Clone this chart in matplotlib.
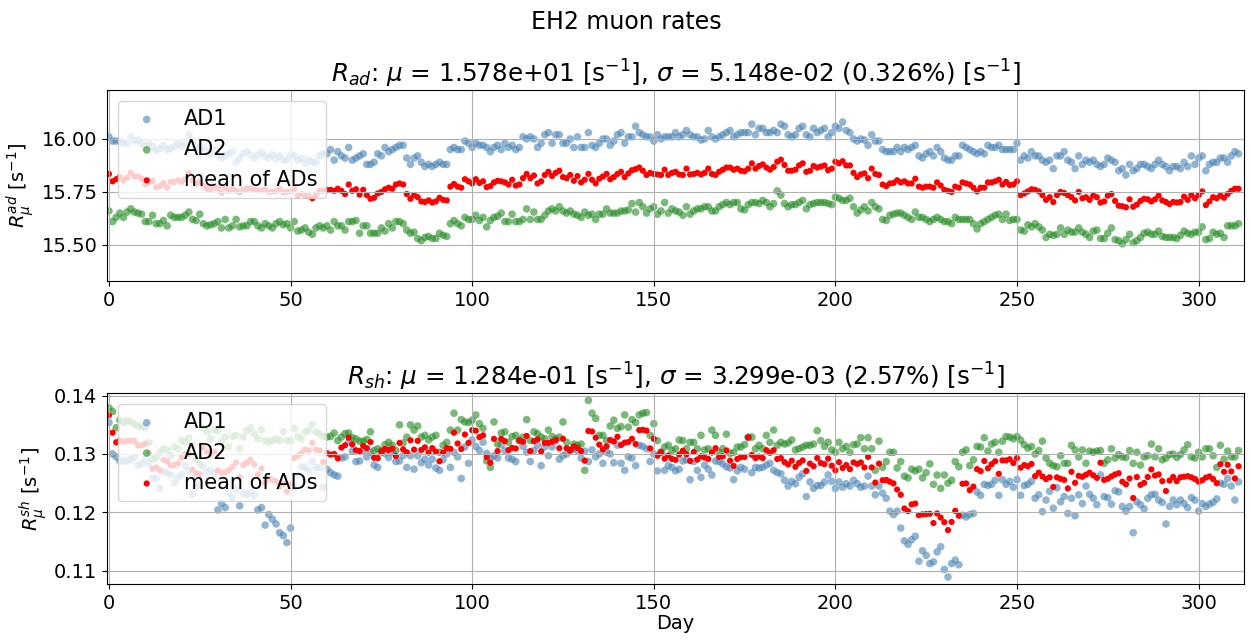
"""EH2 muon rates per day for the two ADs."""

import matplotlib

matplotlib.use("Agg")
import matplotlib.pyplot as plt
import numpy as np

# AD muon rate R_ad [1/s], one value per day
ad_ad1 = [
    16.01, 15.99, 15.99, 15.99, 15.98, 15.98, 16.01, 15.99, 15.995, 15.98,
    15.965, 15.98, 15.965, 15.945, 15.955, 15.97, 15.95, 15.955, 15.965, 15.98,
    15.965, 15.98, 16.02, 15.99, 15.965, 15.95, 15.96, 15.94, 15.93, 15.95,
    15.925, 15.91, 15.92, 15.93, 15.94, 15.89, 15.91, 15.93, 15.94, 15.925,
    15.91, 15.925, 15.935, 15.92, 15.91, 15.925, 15.905, 15.92, 15.90, 15.90,
    15.925, 15.92, 15.90, 15.91, 15.885, 15.90, 15.89, 15.89,
    15.92, 15.93, 15.93, 15.95, 15.90, 15.94, 15.92, 15.91, 15.96, 15.90,
    15.91, 15.92, 15.93, 15.88, 15.88, 15.89, 15.93, 15.92, 15.96,
    15.94, 15.95, 15.96, 15.97, 15.97,
    15.91, 15.88, 15.91, 15.92, 15.89, 15.87, 15.88, 15.87, 15.88, 15.89, 15.88, 15.88,
    15.95, 15.96, 15.95, 15.95, 15.99, 15.98,
    15.96, 15.98, 15.97, 15.97, 15.96, 15.94, 15.96, 15.97, 15.95, 15.98, 15.96, 15.97, 15.95, 15.96,
    16.01, 16.00, 16.01, 16.00, 15.96, 15.98, 16.02, 16.03, 15.98, 16.02,
    16.02, 15.98, 15.98, 16.00, 15.96, 16.01, 15.96, 15.96, 16.03, 15.97,
    15.96, 15.98, 16.00, 16.00, 15.97, 15.99, 16.02, 16.03, 15.98, 16.01,
    16.01, 16.06, 16.03, 16.02, 16.01, 16.01, 15.99, 16.02, 16.00, 16.01,
    16.01, 16.01, 16.03, 16.01, 16.02, 16.04, 16.02, 16.01, 16.01, 15.995,
    16.00, 16.04, 16.01, 16.00, 16.01, 16.02, 16.03, 16.04, 16.01, 16.02,
    16.03, 16.03, 16.03, 16.07, 16.02, 16.05, 16.05, 16.03, 16.03, 16.04,
    16.03, 16.07, 16.06, 16.02, 16.01, 16.02, 16.05, 16.06, 16.02, 16.01,
    16.05, 16.03, 16.04, 16.05, 16.01, 16.03, 16.06, 16.05, 16.08, 16.04,
    16.03, 16.00, 15.99, 16.00, 15.995, 15.97, 16.02, 15.99, 15.99, 15.95,
    15.94, 15.94, 15.94, 15.96, 15.94, 15.96, 15.95, 15.96, 15.97, 15.92,
    15.91, 15.93, 15.94, 15.92, 15.96, 15.94, 15.91,
    15.90, 15.90, 15.92, 15.92, 15.97, 15.96, 15.95, 15.94, 15.93, 15.94,
    15.93, 15.97, 15.96, 15.96, 15.97, 15.95, 15.95, 15.95, 15.95, 15.98,
    15.90, 15.92, 15.91, 15.94, 15.92, 15.92, 15.90, 15.89, 15.90, 15.86,
    15.92, 15.92, 15.94, 15.90, 15.89, 15.86, 15.92, 15.88, 15.90, 15.89,
    15.90, 15.88, 15.87, 15.88, 15.91, 15.90, 15.89, 15.85, 15.86, 15.83,
    15.88, 15.85, 15.86, 15.88, 15.88, 15.87, 15.86, 15.88, 15.90, 15.88,
    15.87, 15.85, 15.87, 15.87, 15.86, 15.89, 15.87, 15.92, 15.88, 15.91,
    15.92, 15.85, 15.88, 15.89, 15.89, 15.91, 15.91, 15.89, 15.92, 15.94, 15.93,
]
ad_ad2 = [
    15.66, 15.61, 15.63, 15.65, 15.63, 15.655, 15.67, 15.655, 15.65, 15.645,
    15.61, 15.61, 15.64, 15.60, 15.60, 15.615, 15.59, 15.64, 15.63, 15.63,
    15.63, 15.64, 15.655, 15.62, 15.615, 15.645, 15.60, 15.59, 15.595, 15.60,
    15.61, 15.58, 15.62, 15.58, 15.59, 15.62, 15.585, 15.59, 15.59, 15.61,
    15.61, 15.59, 15.58, 15.60, 15.59, 15.58, 15.60, 15.61, 15.595, 15.60,
    15.58, 15.61, 15.565, 15.57, 15.58, 15.56, 15.55, 15.58, 15.59, 15.58,
    15.59, 15.57, 15.61, 15.59, 15.59, 15.57, 15.61, 15.61, 15.615, 15.555,
    15.59, 15.59, 15.555, 15.555, 15.555, 15.58, 15.565, 15.60,
    15.58, 15.61, 15.61, 15.60, 15.57, 15.555, 15.56, 15.53, 15.52, 15.535,
    15.54, 15.53, 15.53, 15.555, 15.545, 15.54, 15.60, 15.615, 15.60, 15.59,
    15.63, 15.62, 15.62, 15.64, 15.615, 15.63, 15.585, 15.615, 15.63, 15.635,
    15.65, 15.61, 15.61, 15.645, 15.61, 15.61, 15.62, 15.67, 15.62, 15.655,
    15.62, 15.62, 15.64, 15.66, 15.67, 15.66, 15.68, 15.66, 15.65, 15.66,
    15.645, 15.64, 15.63, 15.655, 15.64, 15.645, 15.62, 15.645, 15.645, 15.67,
    15.65, 15.65, 15.65, 15.66, 15.66, 15.665, 15.695, 15.655, 15.70, 15.68,
    15.65, 15.67, 15.68, 15.645, 15.66, 15.70,
    15.65, 15.67, 15.66, 15.655, 15.64, 15.68, 15.645, 15.66, 15.67, 15.67,
    15.68, 15.68, 15.66, 15.66, 15.68, 15.69, 15.70, 15.69, 15.70, 15.70,
    15.67, 15.665, 15.69, 15.70, 15.70, 15.695, 15.71, 15.70, 15.68, 15.695,
    15.755, 15.735, 15.695, 15.68, 15.69, 15.69, 15.70, 15.71, 15.67, 15.69,
    15.695, 15.70, 15.70, 15.70, 15.695, 15.69, 15.725, 15.72, 15.71, 15.71,
    15.72, 15.68, 15.65, 15.665, 15.68, 15.66, 15.70, 15.68, 15.67, 15.62,
    15.615, 15.64, 15.645, 15.65, 15.65, 15.64, 15.63, 15.62, 15.655, 15.63,
    15.63, 15.62, 15.61, 15.62, 15.63, 15.62, 15.61,
    15.61, 15.60, 15.63, 15.62, 15.62, 15.62, 15.62, 15.60, 15.575, 15.60,
    15.61, 15.62, 15.63, 15.64, 15.645, 15.62, 15.645, 15.615, 15.62, 15.62,
    15.57, 15.565, 15.595, 15.585, 15.60, 15.585, 15.57, 15.535, 15.55, 15.545,
    15.55, 15.58, 15.55, 15.57, 15.56, 15.56, 15.58, 15.56, 15.55, 15.535,
    15.565, 15.57, 15.53, 15.53, 15.555, 15.58, 15.525, 15.52, 15.505, 15.525,
    15.55, 15.51, 15.52, 15.535, 15.555, 15.56, 15.55, 15.55, 15.565, 15.54,
    15.535, 15.535, 15.535, 15.53, 15.545, 15.565, 15.555, 15.55, 15.56, 15.56,
    15.585, 15.525, 15.53, 15.56, 15.55, 15.555, 15.535, 15.59, 15.59, 15.59, 15.60,
]

# shower muon rate R_sh [1/s], one value per day
sh_ad1 = [
    0.1354, 0.1300, 0.1295, 0.1288, 0.1288, 0.1288, 0.1291, 0.1294, 0.1281, 0.1283,
    0.1290, 0.1283, 0.1258, 0.1259, 0.1241, 0.1271, 0.1268, 0.1264, 0.1250, 0.1259,
    0.1265, 0.1280, 0.1272, 0.1231, 0.1243, 0.1248, 0.1278, 0.1268, 0.1272, 0.1265,
    0.1204, 0.1215, 0.1208, 0.1233, 0.1225, 0.1239, 0.1211, 0.1233, 0.1230, 0.1235,
    0.1229, 0.1204, 0.1208, 0.1178, 0.1196, 0.1188, 0.1180, 0.1165, 0.1160, 0.1148,
    0.1173, 0.1242, 0.1264, 0.1278, 0.1277, 0.1271, 0.1287, 0.1277, 0.1277, 0.1243,
    0.1274, 0.1268, 0.1264, 0.1262, 0.1293, 0.1295, 0.1320, 0.1305, 0.1287, 0.1288,
    0.1306, 0.1295, 0.1303, 0.1281, 0.1277, 0.1303, 0.1301, 0.1294,
    0.1303, 0.1287, 0.1288, 0.1297, 0.1277, 0.1297, 0.1274, 0.1297, 0.1285, 0.1291,
    0.1281, 0.1291, 0.1276, 0.1272, 0.1290, 0.1300, 0.1277, 0.1303, 0.1295, 0.1258,
    0.1312, 0.1284, 0.1324, 0.1313, 0.1306, 0.1320, 0.1301, 0.1293, 0.1297, 0.1293,
    0.1316, 0.1306, 0.1293, 0.1291, 0.1287, 0.1323, 0.1313, 0.1303, 0.1287, 0.1306,
    0.1315, 0.1280, 0.1312, 0.1297, 0.1312, 0.1322, 0.1291, 0.1297, 0.1300, 0.1307,
    0.1309, 0.1306, 0.1293, 0.1305, 0.1287, 0.1307, 0.1295, 0.1300, 0.1284, 0.1303,
    0.1300, 0.1285, 0.1315, 0.1284, 0.1272, 0.1295, 0.1293, 0.1280, 0.1315, 0.1313,
    0.1309, 0.1287, 0.1300, 0.1271, 0.1303, 0.1272, 0.1280,
    0.1277, 0.1271, 0.1274, 0.1288, 0.1290, 0.1256, 0.1287, 0.1272, 0.1260, 0.1281,
    0.1274, 0.1264, 0.1288, 0.1287, 0.1283, 0.1278, 0.1276, 0.1256, 0.1271, 0.1277,
    0.1274, 0.1328, 0.1268, 0.1277, 0.1276, 0.1277, 0.1281, 0.1284, 0.1272, 0.1268,
    0.1266, 0.1255, 0.1245, 0.1253, 0.1249, 0.1260, 0.1266, 0.1227, 0.1252, 0.1241,
    0.1246, 0.1246, 0.1252, 0.1264, 0.1253, 0.1241, 0.1252, 0.1243, 0.1249, 0.1245,
    0.1255, 0.1249, 0.1243, 0.1245, 0.1262, 0.1245, 0.1230, 0.1245, 0.1233, 0.1224,
    0.1202, 0.1196, 0.1202, 0.1173, 0.1151, 0.1145, 0.1153, 0.1159, 0.1116, 0.1134,
    0.1126, 0.1112, 0.1115, 0.1132, 0.1141, 0.1102, 0.1089,
    0.1112, 0.1118, 0.1110, 0.1195, 0.1192, 0.1196, 0.1198, 0.1235, 0.1229, 0.1248,
    0.1246, 0.1248, 0.1255, 0.1229, 0.1256, 0.1248, 0.1253, 0.1243, 0.1256, 0.1229,
    0.1246, 0.1248, 0.1253, 0.1224, 0.1230, 0.1201, 0.1221, 0.1236, 0.1207, 0.1242,
    0.1218, 0.1227, 0.1198, 0.1224, 0.1194, 0.1230, 0.1215, 0.1245, 0.1231, 0.1224,
    0.1213, 0.1264, 0.1227, 0.1225, 0.1214, 0.1237, 0.1235, 0.1210, 0.1202, 0.1210,
    0.1165, 0.1218, 0.1213, 0.1206, 0.1224, 0.1230, 0.1231, 0.1221, 0.1217, 0.1180,
    0.1210, 0.1221, 0.1213, 0.1221, 0.1215, 0.1208, 0.1225, 0.1221, 0.1202, 0.1215,
    0.1210, 0.1214, 0.1217, 0.1223, 0.1250, 0.1248, 0.1258, 0.1245, 0.1221, 0.1252,
]
sh_ad2 = [
    0.1379, 0.1373, 0.1345, 0.1358, 0.1354, 0.1357, 0.1355, 0.1351, 0.1348, 0.1347,
    0.1345, 0.1320, 0.1291, 0.1294, 0.1303, 0.1309, 0.1307, 0.1297, 0.1312, 0.1309,
    0.1323, 0.1320, 0.1328, 0.1315, 0.1291, 0.1283, 0.1344, 0.1338, 0.1326, 0.1341,
    0.1340, 0.1320, 0.1329, 0.1312, 0.1330, 0.1332, 0.1309, 0.1329, 0.1340, 0.1345,
    0.1335, 0.1326, 0.1342, 0.1323, 0.1320, 0.1323, 0.1326, 0.1323, 0.1338, 0.1323,
    0.1323, 0.1344, 0.1330, 0.1326, 0.1338, 0.1341, 0.1351, 0.1338, 0.1335, 0.1330,
    0.1329, 0.1330, 0.1336, 0.1323, 0.1329, 0.1335, 0.1336, 0.1328, 0.1326, 0.1322,
    0.1322, 0.1325, 0.1338, 0.1306, 0.1309, 0.1306, 0.1316, 0.1320,
    0.1315, 0.1306, 0.1350, 0.1319, 0.1329, 0.1350, 0.1341, 0.1348, 0.1329, 0.1332,
    0.1324, 0.1329, 0.1332, 0.1303, 0.1315, 0.1320, 0.1341, 0.1370, 0.1341, 0.1359,
    0.1355, 0.1354, 0.1358, 0.1367, 0.1352, 0.1344, 0.1288, 0.1277, 0.1355, 0.1317,
    0.1336, 0.1338, 0.1320, 0.1330, 0.1332, 0.1323, 0.1329, 0.1359, 0.1323, 0.1338,
    0.1335, 0.1329, 0.1326, 0.1341, 0.1330, 0.1326, 0.1329, 0.1355, 0.1320, 0.1306,
    0.1317, 0.1315, 0.1317, 0.1272, 0.1392, 0.1370, 0.1361, 0.1332, 0.1332, 0.1323,
    0.1348, 0.1358, 0.1344, 0.1347, 0.1367, 0.1346, 0.1359, 0.1354, 0.1367, 0.1370,
    0.1371, 0.1332, 0.1352, 0.1323, 0.1303, 0.1312, 0.1315,
    0.1306, 0.1309, 0.1324, 0.1323, 0.1309, 0.1320, 0.1320, 0.1309, 0.1332, 0.1307,
    0.1309, 0.1341, 0.1332, 0.1303, 0.1309, 0.1334, 0.1301, 0.1303, 0.1312, 0.1312,
    0.1316, 0.1329, 0.1329, 0.1309, 0.1315, 0.1309, 0.1332, 0.1320, 0.1341, 0.1315,
    0.1320, 0.1317, 0.1319, 0.1324, 0.1307, 0.1309, 0.1312, 0.1315, 0.1315, 0.1317,
    0.1340, 0.1323, 0.1313, 0.1320, 0.1307, 0.1303, 0.1320, 0.1309, 0.1313, 0.1303,
    0.1316, 0.1317, 0.1328, 0.1309, 0.1328, 0.1309, 0.1272, 0.1322, 0.1277, 0.1287,
    0.1303, 0.1303, 0.1276, 0.1287, 0.1262, 0.1259, 0.1274, 0.1271, 0.1274, 0.1259,
    0.1268, 0.1283, 0.1248, 0.1264, 0.1241, 0.1264, 0.1250,
    0.1255, 0.1287, 0.1278, 0.1303, 0.1307, 0.1280, 0.1290, 0.1313, 0.1312, 0.1328,
    0.1305, 0.1317, 0.1320, 0.1303, 0.1322, 0.1330, 0.1329, 0.1326, 0.1330, 0.1324,
    0.1316, 0.1310, 0.1313, 0.1300, 0.1306, 0.1322, 0.1293, 0.1284, 0.1280, 0.1278,
    0.1297, 0.1284, 0.1284, 0.1315, 0.1307, 0.1295, 0.1307, 0.1284, 0.1305, 0.1303,
    0.1305, 0.1306, 0.1284, 0.1290, 0.1309, 0.1293, 0.1299, 0.1295, 0.1294, 0.1306,
    0.1284, 0.1303, 0.1281, 0.1295, 0.1297, 0.1317, 0.1295, 0.1309, 0.1290, 0.1293,
    0.1299, 0.1300, 0.1294, 0.1299, 0.1307, 0.1316, 0.1295, 0.1293, 0.1303, 0.1295,
    0.1309, 0.1309, 0.1297, 0.1277, 0.1315, 0.1291, 0.1305, 0.1295, 0.1295, 0.1306,
]

titles = [
    r"$R_{ad}$: $\mu$ = 1.578e+01 [s$^{-1}$], $\sigma$ = 5.148e-02 (0.326%) [s$^{-1}$]",
    r"$R_{sh}$: $\mu$ = 1.284e-01 [s$^{-1}$], $\sigma$ = 3.299e-03 (2.57%) [s$^{-1}$]",
]
ylabels = [r"$R_\mu^{ad}$ [s$^{-1}$]", r"$R_\mu^{sh}$ [s$^{-1}$]"]
ylims = [(15.33, 16.23), (0.1077, 0.1404)]

plt.rcParams["font.size"] = 14

fig, axes = plt.subplots(2, 1, figsize=(12.53, 6.4), dpi=100)
fig.subplots_adjust(left=0.0855, right=0.9928, top=0.859, bottom=0.0875, hspace=0.59)
fig.suptitle("EH2 muon rates", fontsize=17, y=0.985)

series = [(ad_ad1, ad_ad2), (sh_ad1, sh_ad2)]
for ax, (r1, r2), title, ylabel, ylim in zip(axes, series, titles, ylabels, ylims):
    r1 = np.array(r1)
    r2 = np.array(r2)
    days = np.arange(len(r1))
    mean = (r1 + r2) / 2

    ax.scatter(days, r1, s=30, color="steelblue", alpha=0.6, edgecolors="none", label="AD1")
    ax.scatter(days, r2, s=30, color="forestgreen", alpha=0.6, edgecolors="none", label="AD2")
    ax.scatter(days, mean, s=20, color="red", edgecolors="none", label="mean of ADs")

    ax.set_title(title, fontsize=17.7, pad=4)
    ax.set_ylabel(ylabel)
    ax.set_xlim(-0.5, 312.5)
    ax.set_ylim(*ylim)
    ax.grid(True)
    ax.legend(loc="upper left", fontsize=15)

axes[1].set_xlabel("Day", labelpad=1)

fig.savefig("out.png")
